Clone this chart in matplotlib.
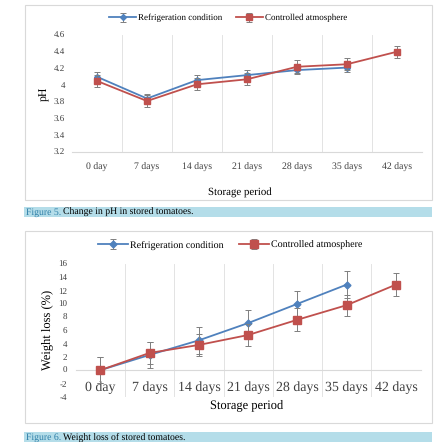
import matplotlib
matplotlib.use('Agg')
import matplotlib.pyplot as plt
from matplotlib.patches import Rectangle

plt.rcParams['font.family'] = ['Liberation Serif', 'DejaVu Serif']
plt.rcParams['axes.unicode_minus'] = False
plt.rcParams['text.hinting'] = 'no_hinting'

# 데이터
days = ['0 day', '7 days', '14 days', '21 days', '28 days', '35 days', '42 days']

ph_refrig = [4.10, 3.84, 4.06, 4.12, 4.18, 4.21]
ph_refrig_err = [0.06, 0.05, 0.06, 0.06, 0.05, 0.05]
ph_ca = [4.05, 3.81, 4.01, 4.07, 4.22, 4.25, 4.40]
ph_ca_err = [0.07, 0.07, 0.07, 0.07, 0.08, 0.07, 0.07]

wl_refrig = [0.0, 2.3, 4.5, 7.1, 10.0, 12.9]
wl_refrig_err = [2.0, 1.9, 2.0, 1.9, 1.9, 2.0]
wl_ca = [0.0, 2.6, 3.8, 5.3, 7.6, 9.8, 12.9]
wl_ca_err = [2.0, 1.6, 1.7, 1.7, 1.7, 1.6, 1.7]

BLUE = '#4F81BD'
RED = '#C0504D'
GRAY = '#7F7F7F'
TXT = '#404040'
W = H = 442.0


def box(x0, y0, x1, y1):
    # 픽셀 좌표(위에서부터) -> figure 좌표
    return [x0 / W, 1 - y1 / H, (x1 - x0) / W, (y1 - y0) / H]


def fy(y):
    return 1 - y / H


def fx(x):
    return x / W


fig = plt.figure(figsize=(4.42, 4.42), dpi=100)

# 차트 외곽 테두리와 캡션 바
for y0, y1 in [(5, 200), (231, 423)]:
    fig.patches.append(Rectangle((fx(25), fy(y1)), fx(432) - fx(25), fy(y0) - fy(y1),
                                 transform=fig.transFigure, fill=False, ec='#D9D9D9', lw=0.8))
for y0, y1, num, label in [(207, 217, 'Figure 5.', 'Change in pH in stored tomatoes.'),
                           (432, 442, 'Figure 6.', 'Weight loss of stored tomatoes.')]:
    fig.patches.append(Rectangle((fx(24), fy(y1)), fx(432) - fx(24), fy(y0) - fy(y1),
                                 transform=fig.transFigure, color='#B4DDE9', lw=0))
    t = fig.text(fx(26), fy((y0 + y1) / 2), num, color='#2F7FA8', fontsize=7,
                 va='center', ha='left')
    fig.canvas.draw()
    bb = t.get_window_extent()
    fig.text(bb.x1 / W + 0.005, fy((y0 + y1) / 2), label, color='black', fontsize=7,
             va='center', ha='left')


def style_axes(ax, xsize, ysize):
    for s in ['top', 'left', 'right']:
        ax.spines[s].set_visible(False)
    ax.spines['bottom'].set_color('#D9D9D9')
    ax.tick_params(axis='both', length=0, colors=TXT)
    ax.tick_params(axis='y', labelsize=ysize)
    ax.set_xlim(-0.5, 6.5)
    for xv in [0.5, 1.5, 2.5, 3.5, 4.5, 5.5, 6.5]:
        ax.axvline(xv, color='#E3E3E3', lw=0.7, zorder=0)
    ax.set_xticks(range(len(days)))
    ax.set_xticklabels(days, fontsize=xsize)


def draw_series(ax, refrig, refrig_err, ca, ca_err, ms_r, ms_c):
    ax.errorbar(range(len(refrig)), refrig, yerr=refrig_err, fmt='-D', color=BLUE,
                ecolor=GRAY, elinewidth=0.7, capsize=2, capthick=0.7, markersize=ms_r,
                lw=1.3, label='Refrigeration condition', zorder=3)
    ax.errorbar(range(len(ca)), ca, yerr=ca_err, fmt='-s', color=RED,
                ecolor=GRAY, elinewidth=0.7, capsize=2, capthick=0.7, markersize=ms_c,
                lw=1.3, label='Controlled atmosphere', zorder=4)


# 그림 5: pH
ax1 = fig.add_axes(box(72, 35, 422, 152))
style_axes(ax1, 7, 6.5)
draw_series(ax1, ph_refrig, ph_refrig_err, ph_ca, ph_ca_err, 3, 5)
ax1.set_ylim(3.2, 4.6)
ax1.set_yticks([3.2, 3.4, 3.6, 3.8, 4.0, 4.2, 4.4, 4.6])
ax1.set_yticklabels(['3.2', '3.4', '3.6', '3.8', '4', '4.2', '4.4', '4.6'])
ax1.tick_params(axis='y', pad=5)
ax1.tick_params(axis='x', pad=8)
ax1.set_ylabel('pH', fontsize=8.5, color='black', labelpad=3)
ax1.legend(loc='center', bbox_to_anchor=(fx(228), fy(18)), bbox_transform=fig.transFigure,
           ncol=2, frameon=False, fontsize=6.5, handlelength=3, columnspacing=1.5,
           handletextpad=0.2)
fig.text(fx(240), fy(193), 'Storage period', ha='center', va='center', fontsize=7.8)

# 그림 6: 중량 감소
ax2 = fig.add_axes(box(75.7, 264, 420.7, 396.7))
style_axes(ax2, 7.4, 6.5)
draw_series(ax2, wl_refrig, wl_refrig_err, wl_ca, wl_ca_err, 3.5, 5.5)
ax2.set_ylim(-4, 16)
ax2.set_yticks(range(-4, 17, 2))
ax2.spines['bottom'].set_position(('data', 0))
ax2.tick_params(axis='y', pad=6)
ax2.tick_params(axis='x', pad=8)
ax2.set_ylabel('Weight loss (%)', fontsize=9, color='black', labelpad=4)
ax2.legend(loc='center', bbox_to_anchor=(fx(230), fy(245)), bbox_transform=fig.transFigure,
           ncol=2, frameon=False, fontsize=7.2, handlelength=3, columnspacing=1.5,
           handletextpad=0.2)
fig.text(fx(247), fy(405), 'Storage period', ha='center', va='center', fontsize=9)

fig.savefig('out.png', dpi=100, facecolor='white')
